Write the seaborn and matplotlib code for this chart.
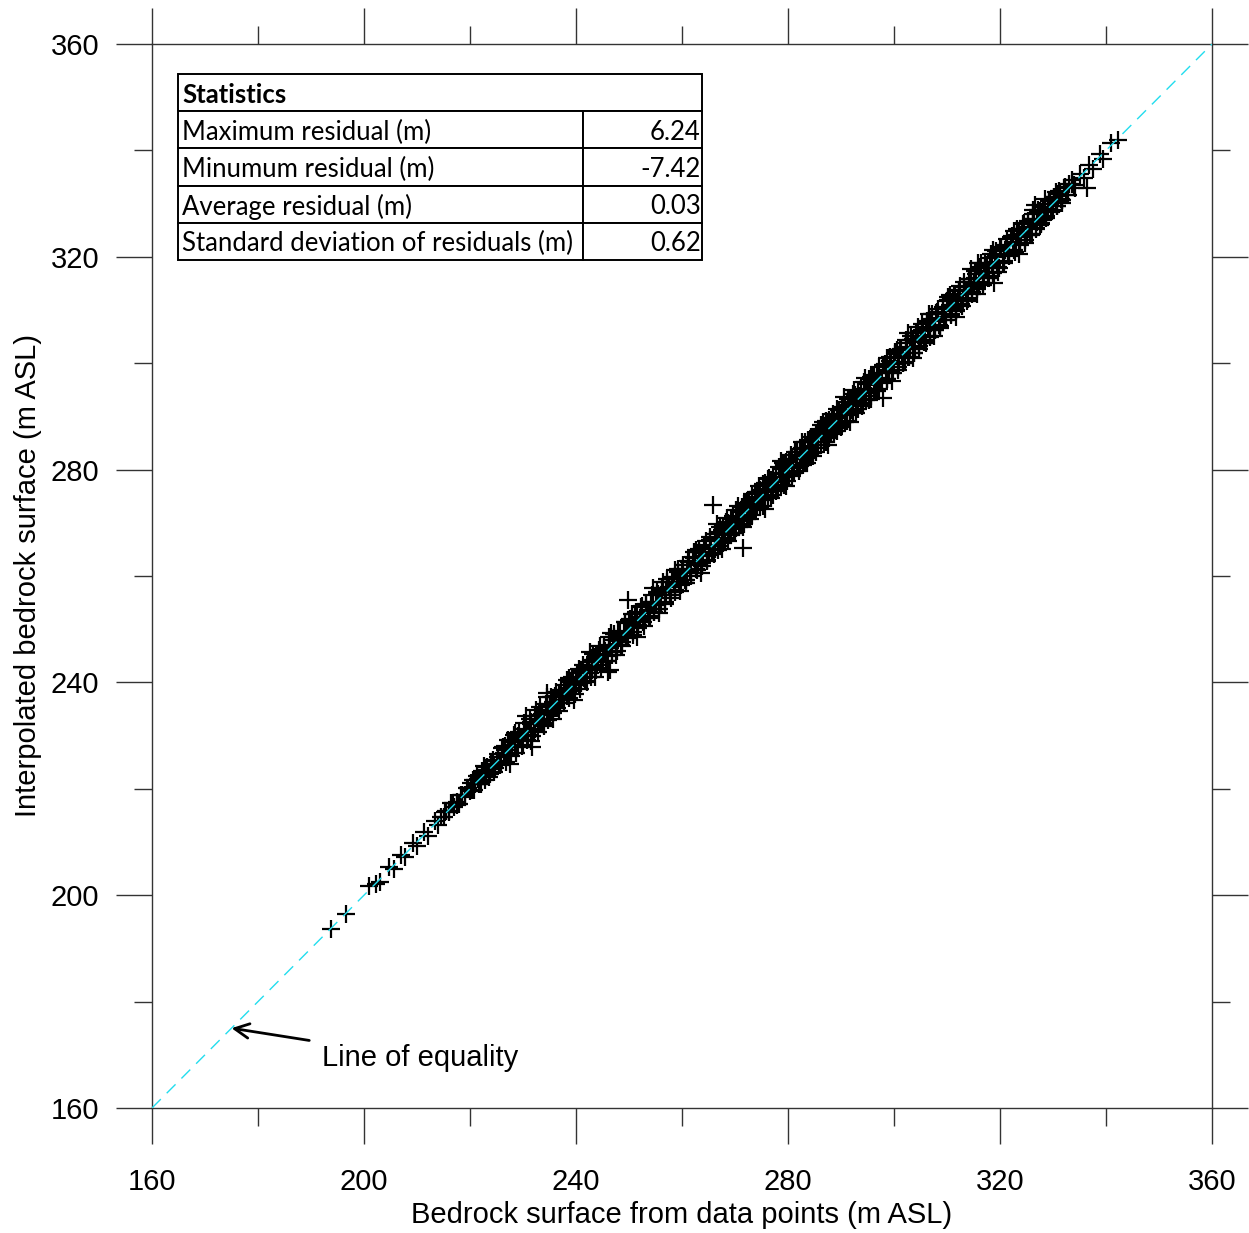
import matplotlib
matplotlib.use("Agg")
import matplotlib.pyplot as plt
import seaborn as sns
import pandas as pd

# ---------------- data ----------------
obs_x = [193.7, 196.6, 201.0, 202.3, 203.1, 204.8, 205.6, 206.9, 207.8, 209.2,
         210.0, 211.3, 212.1, 213.4, 214.0, 215.2, 216.1, 216.8, 217.5, 218.3,
         219.0, 219.7, 220.4, 221.0, 221.8, 222.5, 223.1, 223.9, 224.6, 225.2,
         225.9, 226.6, 227.2, 227.9, 228.5, 229.1, 229.8, 230.4, 231.0, 231.6,
         231.7, 232.2, 232.8, 233.3, 233.9, 234.5, 234.5, 235.0, 235.6, 236.1,
         236.7, 237.2, 237.8, 238.3, 238.9, 239.4, 240.0, 240.5, 241.0, 241.5,
         242.1, 242.6, 243.1, 243.6, 244.2, 244.7, 245.2, 245.7, 246.0, 246.2,
         246.4, 246.7, 247.2, 247.7, 248.2, 248.7, 249.2, 249.7, 249.8, 250.2,
         250.7, 251.2, 251.7, 252.2, 252.7, 253.2, 253.7, 254.2, 254.7, 255.2,
         255.7, 256.2, 256.7, 257.2, 257.7, 258.2, 258.7, 259.2, 259.7, 260.2,
         260.7, 261.2, 261.7, 262.2, 262.7, 263.2, 263.7, 264.2, 264.7, 265.2,
         265.8, 266.2, 266.7, 267.2, 267.7, 268.2, 268.7, 269.2, 269.7, 270.2,
         270.7, 271.2, 271.5, 271.7, 272.2, 272.7, 273.2, 273.7, 274.2, 274.7,
         275.2, 275.7, 276.2, 276.7, 277.2, 277.7, 278.2, 278.7, 279.1, 279.2,
         279.7, 280.2, 280.7, 281.2, 281.7, 282.2, 282.7, 283.2, 283.7, 284.2,
         284.7, 285.2, 285.7, 286.2, 286.7, 287.2, 287.7, 288.2, 288.7, 289.2,
         289.7, 290.2, 290.7, 291.2, 291.7, 292.2, 292.7, 293.2, 293.7, 294.2,
         294.7, 295.2, 295.7, 296.2, 296.7, 297.2, 297.9, 298.2, 298.7, 299.2,
         299.7, 300.2, 300.7, 301.2, 301.7, 302.2, 302.7, 303.2, 303.7, 304.2,
         304.7, 305.2, 305.7, 306.2, 306.7, 307.2, 307.7, 308.2, 308.7, 309.2,
         309.7, 310.2, 310.7, 311.2, 311.7, 312.2, 312.7, 313.2, 313.7, 314.2,
         314.7, 315.2, 315.7, 315.8, 316.2, 316.7, 317.2, 317.7, 318.2, 318.7,
         318.9, 319.2, 319.7, 320.2, 320.7, 321.2, 321.7, 322.2, 322.7, 323.2,
         323.7, 324.2, 324.7, 325.2, 325.7, 326.2, 326.2, 326.7, 327.2, 327.7,
         328.2, 328.7, 329.2, 329.7, 330.2, 330.7, 331.2, 331.7, 332.2, 332.8,
         333.5, 334.2, 335.0, 335.8, 336.4, 336.7, 337.6, 338.8, 339.5, 341.0,
         342.3,
         214.5, 215.0, 215.5, 216.0, 216.5, 217.0, 217.5, 218.0, 218.5, 219.0,
         219.5, 220.0, 220.5, 221.0, 221.5, 222.0, 222.5, 223.0, 223.5, 224.0,
         224.5, 225.0, 225.5, 226.0, 226.5, 227.0, 227.5, 228.0, 228.5, 229.0,
         229.5, 230.0, 230.5, 231.0, 231.5, 232.0, 232.5, 233.0, 233.5, 234.0,
         234.5, 235.0, 235.5, 236.0, 236.5, 237.0, 237.5, 238.0, 238.5, 239.0,
         239.5, 240.0, 240.5, 241.0, 241.5, 242.0, 242.5, 243.0, 243.5, 244.0,
         244.5, 245.0, 245.5, 246.0, 246.5, 247.0, 247.5, 248.0, 248.5, 249.0,
         249.5, 250.0, 250.5, 251.0, 251.5, 252.0, 252.5, 253.0, 253.5, 254.0,
         254.5, 255.0, 255.5, 256.0, 256.5, 257.0, 257.5, 258.0, 258.5, 259.0,
         259.5, 260.0, 260.5, 261.0, 261.5, 262.0, 262.5, 263.0, 263.5, 264.0,
         264.5, 265.0, 265.5, 266.0, 266.5, 267.0, 267.5, 268.0, 268.5, 269.0,
         269.5, 270.0, 270.5, 271.0, 271.5, 272.0, 272.5, 273.0, 273.5, 274.0,
         274.5, 275.0, 275.5, 276.0, 276.5, 277.0, 277.5, 278.0, 278.5, 279.0,
         279.5, 280.0, 280.5, 281.0, 281.5, 282.0, 282.5, 283.0, 283.5, 284.0,
         284.5, 285.0, 285.5, 286.0, 286.5, 287.0, 287.5, 288.0, 288.5, 289.0,
         289.5, 290.0, 290.5, 291.0, 291.5, 292.0, 292.5, 293.0, 293.5, 294.0,
         294.5, 295.0, 295.5, 296.0, 296.5, 297.0, 297.5, 298.0, 298.5, 299.0,
         299.5, 300.0, 300.5, 301.0, 301.5, 302.0, 302.5, 303.0, 303.5, 304.0,
         304.5, 305.0, 305.5, 306.0, 306.5, 307.0, 307.5, 308.0, 308.5, 309.0,
         309.5, 310.0, 310.5, 311.0, 311.5, 312.0, 312.5, 313.0, 313.5, 314.0,
         314.5, 315.0, 315.5, 316.0, 316.5, 317.0, 317.5, 318.0, 318.5, 319.0,
         319.5, 320.0, 320.5, 321.0, 321.5, 322.0, 322.5, 323.0, 323.5, 324.0,
         324.5, 325.0, 325.5, 326.0, 326.5, 327.0, 327.5, 328.0, 328.5, 329.0,
         329.5, 330.0, 330.5, 331.0, 331.5, 332.0, 332.5, 333.0, 333.5, 334.0,
         220.25, 220.75, 221.25, 221.75, 222.25, 222.75, 223.25, 223.75, 224.25, 224.75,
         225.25, 225.75, 226.25, 226.75, 227.25, 227.75, 228.25, 228.75, 229.25, 229.75,
         230.25, 230.75, 231.25, 231.75, 232.25, 232.75, 233.25, 233.75, 234.25, 234.75,
         235.25, 235.75, 236.25, 236.75, 237.25, 237.75, 238.25, 238.75, 239.25, 239.75,
         240.25, 240.75, 241.25, 241.75, 242.25, 242.75, 243.25, 243.75, 244.25, 244.75,
         245.25, 245.75, 246.25, 246.75, 247.25, 247.75, 248.25, 248.75, 249.25, 249.75,
         250.25, 250.75, 251.25, 251.75, 252.25, 252.75, 253.25, 253.75, 254.25, 254.75,
         255.25, 255.75, 256.25, 256.75, 257.25, 257.75, 258.25, 258.75, 259.25, 259.75,
         260.25, 260.75, 261.25, 261.75, 262.25, 262.75, 263.25, 263.75, 264.25, 264.75,
         265.25, 265.75, 266.25, 266.75, 267.25, 267.75, 268.25, 268.75, 269.25, 269.75,
         270.25, 270.75, 271.25, 271.75, 272.25, 272.75, 273.25, 273.75, 274.25, 274.75,
         275.25, 275.75, 276.25, 276.75, 277.25, 277.75, 278.25, 278.75, 279.25, 279.75,
         280.25, 280.75, 281.25, 281.75, 282.25, 282.75, 283.25, 283.75, 284.25, 284.75,
         285.25, 285.75, 286.25, 286.75, 287.25, 287.75, 288.25, 288.75, 289.25, 289.75,
         290.25, 290.75, 291.25, 291.75, 292.25, 292.75, 293.25, 293.75, 294.25, 294.75,
         295.25, 295.75, 296.25, 296.75, 297.25, 297.75, 298.25, 298.75, 299.25, 299.75,
         300.25, 300.75, 301.25, 301.75, 302.25, 302.75, 303.25, 303.75, 304.25, 304.75,
         305.25, 305.75, 306.25, 306.75, 307.25, 307.75, 308.25, 308.75, 309.25, 309.75,
         310.25, 310.75, 311.25, 311.75, 312.25, 312.75, 313.25, 313.75, 314.25, 314.75,
         315.25, 315.75, 316.25, 316.75, 317.25, 317.75, 318.25, 318.75, 319.25, 319.75,
         320.25, 320.75, 321.25, 321.75, 322.25, 322.75, 323.25, 323.75, 324.25, 324.75,
         325.25, 325.75, 326.25, 326.75, 327.25, 327.75, 328.25, 328.75, 329.25, 329.75,
         330.25, 330.75, 331.25, 331.75, 332.25,
         222.6, 223.6, 226.6, 227.6, 230.6, 231.6, 234.6, 235.6, 238.6, 239.6,
         242.6, 243.6, 246.6, 247.6, 250.6, 251.6, 254.6, 255.6, 258.6, 259.6,
         262.6, 263.6, 266.6, 267.6, 270.6, 271.6, 274.6, 275.6, 278.6, 279.6,
         282.6, 283.6, 286.6, 287.6, 290.6, 291.6, 294.6, 295.6, 298.6, 299.6,
         302.6, 303.6, 306.6, 307.6, 310.6, 311.6, 314.6, 315.6, 318.6, 319.6,
         322.6, 323.6, 326.6, 327.6, 330.6, 331.6]
obs_y = [193.6, 196.4, 201.7, 202.1, 202.5, 205.3, 205.0, 207.6, 207.2, 209.9,
         209.3, 211.8, 211.1, 213.9, 213.2, 215.6, 215.7, 217.4, 217.0, 218.9,
         218.4, 220.1, 219.8, 221.6, 221.2, 223.0, 222.4, 224.6, 224.1, 225.9,
         225.1, 227.2, 226.5, 228.8, 227.8, 230.0, 229.1, 231.3, 230.2, 232.1,
         227.9, 231.3, 233.9, 232.6, 231.9, 235.6, 238.0, 234.3, 236.4, 235.2,
         237.8, 236.6, 238.5, 237.4, 240.1, 238.9, 240.7, 239.6, 242.2, 240.8,
         242.9, 241.7, 244.3, 242.9, 245.0, 243.8, 246.5, 244.9, 242.0, 247.1,
         242.3, 245.7, 248.6, 247.0, 249.0, 247.6, 251.3, 249.0, 255.5, 251.1,
         249.5, 252.9, 250.8, 253.0, 251.4, 254.6, 252.5, 255.2, 253.3, 256.6,
         254.9, 257.3, 255.2, 258.8, 256.9, 259.4, 257.3, 260.7, 258.8, 261.1,
         259.2, 262.9, 260.6, 263.3, 261.3, 264.6, 262.5, 265.4, 263.1, 266.8,
         273.3, 265.1, 268.2, 265.6, 269.4, 267.0, 269.9, 267.8, 271.3, 269.1,
         272.1, 269.5, 265.3, 273.5, 270.8, 274.0, 271.4, 275.6, 272.9, 276.1,
         273.2, 277.4, 274.8, 278.0, 275.3, 279.3, 276.6, 280.2, 281.2, 277.1,
         281.4, 278.9, 282.0, 279.3, 283.3, 280.6, 284.1, 281.2, 285.5, 282.8,
         286.0, 283.3, 287.3, 284.6, 288.2, 285.1, 289.4, 286.9, 290.0, 287.3,
         291.2, 288.5, 292.1, 289.2, 293.4, 290.8, 294.0, 291.3, 295.1, 292.6,
         296.2, 293.1, 297.4, 294.8, 298.1, 295.2, 293.5, 299.6, 297.0, 300.4,
         298.1, 301.7, 299.3, 302.5, 300.1, 303.8, 301.2, 304.4, 302.0, 305.6,
         303.3, 306.2, 304.0, 307.8, 305.1, 308.3, 306.2, 309.7, 307.0, 310.4,
         308.1, 311.9, 309.2, 312.3, 310.0, 313.6, 311.2, 314.3, 311.6, 315.8,
         313.3, 316.1, 314.0, 318.8, 317.4, 315.1, 318.2, 316.3, 319.7, 317.0,
         315.1, 320.3, 318.1, 321.6, 319.3, 322.2, 320.1, 323.7, 321.2, 324.1,
         322.6, 325.3, 323.1, 326.4, 324.3, 327.2, 328.8, 325.4, 328.5, 326.2,
         329.3, 327.6, 330.4, 328.4, 331.3, 329.6, 332.3, 330.6, 333.1, 331.7,
         334.4, 333.0, 335.6, 334.9, 332.9, 337.2, 336.6, 339.3, 338.4, 341.4,
         341.9,
         214.7, 214.7, 215.9, 215.9, 217.4, 216.5, 217.6, 217.2, 218.8, 218.8,
         220.1, 219.5, 221.6, 220.9, 221.8, 220.9, 222.5, 223.5, 223.2, 224.7,
         223.2, 225.2, 224.7, 227.6, 226.8, 226.5, 228.3, 227.8, 230.4, 228.1,
         229.6, 228.3, 231.1, 230.6, 232.6, 231.0, 234.8, 232.9, 234.0, 231.8,
         234.5, 235.9, 234.9, 237.4, 235.2, 237.2, 236.7, 239.6, 238.9, 238.3,
         240.4, 239.7, 242.5, 239.9, 241.7, 240.1, 243.2, 242.8, 244.7, 243.2,
         246.9, 245.1, 245.9, 244.0, 246.4, 248.0, 247.0, 249.5, 247.1, 249.3,
         248.6, 251.7, 250.8, 250.5, 252.3, 251.8, 254.4, 252.1, 253.6, 252.3,
         255.1, 254.6, 256.6, 255.0, 258.8, 256.9, 258.0, 255.8, 258.5, 259.9,
         258.9, 261.4, 259.2, 261.2, 260.7, 263.6, 262.9, 262.3, 264.4, 263.7,
         266.5, 263.9, 265.7, 264.1, 267.2, 266.8, 268.7, 267.2, 270.9, 269.1,
         269.9, 268.0, 270.4, 272.0, 271.0, 273.5, 271.1, 273.3, 272.6, 275.7,
         274.8, 274.5, 276.3, 275.8, 278.4, 276.1, 277.6, 276.3, 279.1, 278.6,
         280.6, 279.0, 282.8, 280.9, 282.0, 279.8, 282.5, 283.9, 282.9, 285.4,
         283.2, 285.2, 284.7, 287.6, 286.9, 286.3, 288.4, 287.7, 290.5, 287.9,
         289.7, 288.1, 291.2, 290.8, 292.7, 291.2, 294.9, 293.1, 293.9, 292.0,
         294.4, 296.0, 295.0, 297.5, 295.1, 297.3, 296.6, 299.7, 298.8, 298.5,
         300.3, 299.8, 302.4, 300.1, 301.6, 300.3, 303.1, 302.6, 304.6, 303.0,
         306.8, 304.9, 306.0, 303.8, 306.5, 307.9, 306.9, 309.4, 307.2, 309.2,
         308.7, 311.6, 310.9, 310.3, 312.4, 311.7, 314.5, 311.9, 313.7, 312.1,
         315.2, 314.8, 316.7, 315.2, 318.9, 317.1, 317.9, 316.0, 318.4, 320.0,
         319.0, 321.5, 319.1, 321.3, 320.6, 323.7, 322.8, 322.5, 324.3, 323.8,
         326.4, 324.1, 325.6, 324.3, 327.1, 326.6, 328.6, 327.0, 330.8, 328.9,
         330.0, 328.8, 330.5, 331.9, 330.9, 333.0, 331.7, 333.6, 333.7, 333.5,
         221.15, 219.75, 222.35, 220.95, 223.25, 221.65, 224.05, 222.85, 225.45, 223.85,
         226.45, 224.45, 227.85, 224.95, 229.25, 226.25, 230.15, 226.65, 230.65, 228.05,
         232.45, 229.15, 233.05, 229.85, 233.75, 230.75, 235.35, 232.35, 235.85, 232.95,
         237.25, 234.25, 238.15, 234.65, 238.65, 236.05, 240.45, 237.15, 241.05, 237.85,
         241.75, 238.75, 243.35, 240.35, 243.85, 240.95, 245.25, 242.25, 246.15, 242.65,
         246.65, 244.05, 248.45, 245.15, 249.05, 245.85, 249.75, 246.75, 251.35, 248.35,
         251.85, 248.95, 253.25, 250.25, 254.15, 250.65, 254.65, 252.05, 256.45, 253.15,
         257.05, 253.85, 257.75, 254.75, 259.35, 256.35, 259.85, 256.95, 261.25, 258.25,
         262.15, 258.65, 262.65, 260.05, 264.45, 261.15, 265.05, 261.85, 265.75, 262.75,
         267.35, 264.35, 267.85, 264.95, 269.25, 266.25, 270.15, 266.65, 270.65, 268.05,
         272.45, 269.15, 273.05, 269.85, 273.75, 270.75, 275.35, 272.35, 275.85, 272.95,
         277.25, 274.25, 278.15, 274.65, 278.65, 276.05, 280.45, 277.15, 281.05, 277.85,
         281.75, 278.75, 283.35, 280.35, 283.85, 280.95, 285.25, 282.25, 286.15, 282.65,
         286.65, 284.05, 288.45, 285.15, 289.05, 285.85, 289.75, 286.75, 291.35, 288.35,
         291.85, 288.95, 293.25, 290.25, 294.15, 290.65, 294.65, 292.05, 296.45, 293.15,
         297.05, 293.85, 297.75, 294.75, 299.35, 296.35, 299.85, 296.95, 301.25, 298.25,
         302.15, 298.65, 302.65, 300.05, 304.45, 301.15, 305.05, 301.85, 305.75, 302.75,
         307.35, 304.35, 307.85, 304.95, 309.25, 306.25, 310.15, 306.65, 310.65, 308.05,
         312.45, 309.15, 313.05, 309.85, 313.75, 310.75, 315.35, 312.35, 315.85, 312.95,
         317.25, 314.25, 318.15, 314.65, 318.65, 316.05, 320.45, 317.15, 321.05, 317.85,
         321.75, 318.75, 323.35, 320.35, 323.85, 320.95, 325.25, 322.25, 326.15, 322.65,
         326.65, 324.05, 328.05, 325.15, 328.75, 326.35, 329.45, 327.25, 330.55, 328.65,
         331.25, 329.55, 332.15, 330.75, 333.05,
         224.2, 222.2, 228.0, 224.6, 233.7, 229.0, 237.2, 233.2, 240.9, 236.6,
         245.7, 241.0, 249.2, 245.2, 252.9, 248.6, 257.7, 253.0, 261.2, 257.2,
         264.9, 260.6, 269.7, 265.0, 273.2, 269.2, 276.9, 272.6, 281.7, 277.0,
         285.2, 281.2, 288.9, 284.6, 293.7, 289.0, 297.2, 293.2, 300.9, 296.6,
         305.7, 301.0, 309.2, 305.2, 312.9, 308.6, 317.7, 313.0, 321.2, 317.2,
         324.9, 320.6, 329.7, 326.0, 332.2, 330.2]

equality_line = [160, 360]

stat_labels = ["Maximum residual (m)", "Minumum residual (m)",
               "Average residual (m)", "Standard deviation of residuals (m)"]
stat_values = ["6.24", "-7.42", "0.03", "0.62"]

major_ticks = [160, 200, 240, 280, 320, 360]
minor_ticks = [180, 220, 260, 300, 340]

# ---------------- style ----------------
sns.set_theme(style="white")
plt.rcParams["font.family"] = ["Liberation Sans", "DejaVu Sans"]
plt.rcParams["text.color"] = "black"
plt.rcParams["axes.labelcolor"] = "black"

fig = plt.figure(figsize=(12.49, 12.33), dpi=100)
ax = fig.add_axes([0.1217, 0.1014, 0.8487, 0.8629])

df = pd.DataFrame({"x": obs_x, "y": obs_y})
sns.scatterplot(data=df, x="x", y="y", marker="+", s=160, color="black",
                linewidth=1.6, antialiased=False, ax=ax, zorder=2,
                legend=False)

line_df = pd.DataFrame({"x": equality_line, "y": equality_line})
sns.lineplot(data=line_df, x="x", y="y", color="#22DDEE", linewidth=1.0,
             ax=ax, zorder=3)
ax.lines[-1].set_dashes((9, 6))

ax.set_xlim(160, 360)
ax.set_ylim(160, 360)
ax.set_xticks(major_ticks)
ax.set_yticks(major_ticks)
ax.set_xticks(minor_ticks, minor=True)
ax.set_yticks(minor_ticks, minor=True)
ax.tick_params(which="both", direction="out", top=True, right=True,
               bottom=True, left=True, color="#333333", width=1.0,
               labelsize=21, labelcolor="black")
ax.tick_params(which="major", length=26)
ax.tick_params(which="minor", length=13)
ax.tick_params(axis="x", which="major", pad=17)
ax.tick_params(axis="y", which="major", pad=12)
for sp in ax.spines.values():
    sp.set_color("#333333")
    sp.set_linewidth(1.0)
    sp.set_visible(True)

ax.set_xlabel("Bedrock surface from data points (m ASL)", fontsize=21, labelpad=4)
ax.set_ylabel("Interpolated bedrock surface (m ASL)", fontsize=21, labelpad=6)

# annotation
ax.annotate("Line of equality", xy=(175, 175), xytext=(192.1, 169.4),
            fontsize=21, ha="left", va="center", color="black",
            arrowprops=dict(arrowstyle="->", color="black", lw=2.0,
                            shrinkA=7, shrinkB=0, mutation_scale=26))

# statistics table
cells = [["Statistics", ""]] + [[l, v] for l, v in zip(stat_labels, stat_values)]
tbl = ax.table(cellText=cells, cellLoc="left", colWidths=[0.773, 0.227],
               bbox=[0.0245, 0.797, 0.4943, 0.1748], zorder=5)
tbl.auto_set_font_size(False)
for (r, c), cell in tbl.get_celld().items():
    cell.set_edgecolor("black")
    cell.set_linewidth(1.4)
    cell.set_facecolor("white")
    t = cell.get_text()
    t.set_fontsize(18.5)
    t.set_fontfamily(["Lato", "DejaVu Sans"])
    t.set_color("black")
    t.set_verticalalignment("center_baseline")
    cell.PAD = 0.01
    if r == 0:
        cell.visible_edges = "BTL" if c == 0 else "BTR"
        if c == 0:
            t.set_fontweight("bold")
    if c == 1:
        t.set_horizontalalignment("right")
        cell._loc = "right"

fig.savefig("out.png", dpi=100)
